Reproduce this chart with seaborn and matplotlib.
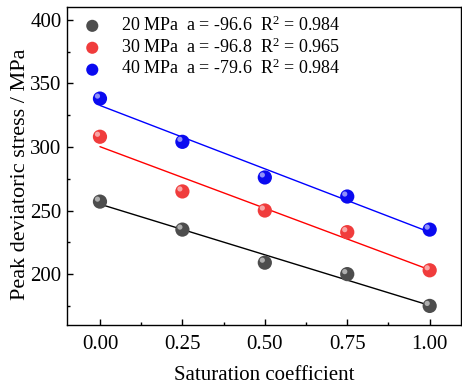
import numpy as np
import pandas as pd
import matplotlib
matplotlib.use("Agg")
import matplotlib.pyplot as plt
import matplotlib.transforms as mtransforms
from matplotlib.ticker import MultipleLocator
import seaborn as sns

saturation = [0.00, 0.25, 0.50, 0.75, 1.00]
stress_20 = [257, 235, 209, 200, 175]
stress_30 = [308, 265, 250, 233, 203]
stress_40 = [338, 304, 276, 261, 235]
groups = ["20 MPa", "30 MPa", "40 MPa"]
slopes = ["-96.6", "-96.8", "-79.6"]
r2 = ["0.984", "0.965", "0.984"]
marker_colors = ["#4d4d4d", "#f03c3c", "#0a0af0"]
line_colors = ["black", "red", "blue"]

sns.set_theme(style="ticks", rc={"text.color": "black", "axes.labelcolor": "black",
                                 "xtick.color": "black", "ytick.color": "black"})
plt.rcParams["font.family"] = ["Liberation Serif", "DejaVu Serif"]
plt.rcParams["mathtext.fontset"] = "custom"
plt.rcParams["mathtext.rm"] = "Liberation Serif"
plt.rcParams["mathtext.it"] = "Liberation Serif:italic"

df = pd.DataFrame({
    "x": saturation * 3,
    "y": stress_20 + stress_30 + stress_40,
    "g": np.repeat(groups, len(saturation)),
})

fig = plt.figure(figsize=(4.62, 3.87), dpi=100)
ax = fig.add_axes([67 / 462, 62 / 387, 394 / 462, 318 / 387])

handles = []
for g, s, r, mc, lc in zip(groups, slopes, r2, marker_colors, line_colors):
    sub = df[df.g == g]
    sns.regplot(data=sub, x="x", y="y", ax=ax, ci=None, scatter=False,
                line_kws=dict(color=lc, lw=1.0))
    h = ax.scatter(sub.x, sub.y, s=105, color=mc, zorder=3, edgecolors="none",
                   label=f"{g}  a = {s}  R$^2$ = {r}")
    off = mtransforms.offset_copy(ax.transData, fig=fig, x=-1.8, y=1.8, units="points")
    ax.scatter(sub.x, sub.y, s=14, color="white", alpha=0.55, zorder=4,
               edgecolors="none", transform=off)
    handles.append(h)

ax.set_xlim(-0.1, 1.095)
ax.set_ylim(160, 410)
ax.xaxis.set_minor_locator(MultipleLocator(0.125))
ax.yaxis.set_major_locator(MultipleLocator(50))
ax.yaxis.set_minor_locator(MultipleLocator(25))
ax.set_xticks([0, 0.25, 0.5, 0.75, 1.0])
ax.set_xticklabels(["0.00", "0.25", "0.50", "0.75", "1.00"])
ax.set_yticks([200, 250, 300, 350, 400])
ax.tick_params(which="both", direction="in", labelsize=15, top=False, right=False)
ax.tick_params(which="major", length=4, width=1)
ax.tick_params(which="minor", length=2.5, width=1)
ax.tick_params(axis="x", pad=7)
ax.tick_params(axis="y", pad=4)
for sp in ax.spines.values():
    sp.set_visible(True)
    sp.set_linewidth(1.0)
    sp.set_color("black")

ax.set_xlabel("Saturation coefficient", fontsize=15, labelpad=9)
ax.set_ylabel("Peak deviatoric stress / MPa", fontsize=16)
ax.yaxis.set_label_coords(-0.093, 0.475)

ax.legend(handles=handles, loc="upper left", frameon=False, fontsize=13,
          markerscale=0.85, handletextpad=0.6, labelspacing=0.14,
          borderaxespad=0.0, bbox_to_anchor=(0.0, 0.997))

fig.savefig("out.png", dpi=100)
